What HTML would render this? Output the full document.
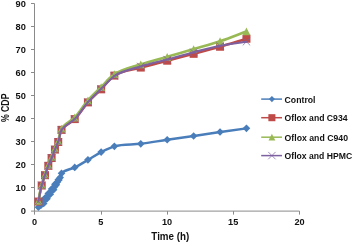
<!DOCTYPE html>
<html><head><meta charset="utf-8"><title>Chart</title>
<style>html,body{margin:0;padding:0;background:#fff}svg{display:block}</style>
</head><body>
<svg width="355" height="246" viewBox="0 0 355 246">
<rect width="355" height="246" fill="#fff"/>
<g stroke="#8a8a8a" stroke-width="1" fill="none" >
<path d="M34.5 3.5 V211.1 H299.5"/>
<path d="M31.0 211.1 H34.5"/>
<path d="M31.0 187.5 H34.5"/>
<path d="M31.0 164.5 H34.5"/>
<path d="M31.0 141.5 H34.5"/>
<path d="M31.0 118.5 H34.5"/>
<path d="M31.0 95.5 H34.5"/>
<path d="M31.0 72.5 H34.5"/>
<path d="M31.0 49.5 H34.5"/>
<path d="M31.0 26.5 H34.5"/>
<path d="M31.0 3.5 H34.5"/>
<path d="M34.5 211.1 V214.6"/>
<path d="M101.5 211.1 V214.6"/>
<path d="M167.5 211.1 V214.6"/>
<path d="M233.5 211.1 V214.6"/>
<path d="M299.5 211.1 V214.6"/>
</g>
<g font-family="'Liberation Sans', sans-serif" font-weight="bold" font-size="9.7" fill="#111">
<text x="25.9" y="214.1" text-anchor="end" textLength="5.2" lengthAdjust="spacingAndGlyphs">0</text>
<text x="25.9" y="191.0" text-anchor="end" textLength="10.3" lengthAdjust="spacingAndGlyphs">10</text>
<text x="25.9" y="168.0" text-anchor="end" textLength="10.3" lengthAdjust="spacingAndGlyphs">20</text>
<text x="25.9" y="144.9" text-anchor="end" textLength="10.3" lengthAdjust="spacingAndGlyphs">30</text>
<text x="25.9" y="121.8" text-anchor="end" textLength="10.3" lengthAdjust="spacingAndGlyphs">40</text>
<text x="25.9" y="98.8" text-anchor="end" textLength="10.3" lengthAdjust="spacingAndGlyphs">50</text>
<text x="25.9" y="75.7" text-anchor="end" textLength="10.3" lengthAdjust="spacingAndGlyphs">60</text>
<text x="25.9" y="52.6" text-anchor="end" textLength="10.3" lengthAdjust="spacingAndGlyphs">70</text>
<text x="25.9" y="29.5" text-anchor="end" textLength="10.3" lengthAdjust="spacingAndGlyphs">80</text>
<text x="25.9" y="6.5" text-anchor="end" textLength="10.3" lengthAdjust="spacingAndGlyphs">90</text>
<text x="34.5" y="225.3" text-anchor="middle" textLength="5.1" lengthAdjust="spacingAndGlyphs">0</text>
<text x="100.8" y="225.3" text-anchor="middle" textLength="5.1" lengthAdjust="spacingAndGlyphs">5</text>
<text x="167.0" y="225.3" text-anchor="middle" textLength="10.2" lengthAdjust="spacingAndGlyphs">10</text>
<text x="233.2" y="225.3" text-anchor="middle" textLength="10.2" lengthAdjust="spacingAndGlyphs">15</text>
<text x="299.5" y="225.3" text-anchor="middle" textLength="10.2" lengthAdjust="spacingAndGlyphs">20</text>
<text x="170.3" y="240.1" text-anchor="middle" font-size="10.5" textLength="37.9" lengthAdjust="spacingAndGlyphs">Time (h)</text>
<text transform="translate(8.6 107.8) rotate(-90)" text-anchor="middle" font-size="10.6" textLength="28.5" lengthAdjust="spacingAndGlyphs">% CDP</text>
</g>
<path d="M38.40 207.26 C39.50 205.74 40.60 204.21 41.70 202.69 C42.81 201.16 43.91 199.63 45.01 198.10 C46.11 196.58 47.21 195.05 48.31 193.52 C49.41 192.00 50.51 190.47 51.61 188.94 C52.71 187.42 53.81 185.89 54.92 184.36 C56.02 182.84 57.22 181.38 58.22 179.78 C59.49 177.75 60.06 175.13 61.52 173.37 C64.46 169.85 70.43 169.61 74.73 167.42 C79.25 165.12 83.55 162.41 87.94 159.86 C92.36 157.30 96.60 154.38 101.15 152.08 C105.42 149.91 109.83 147.75 114.36 146.35 C122.72 143.78 132.01 144.93 140.78 143.83 C149.62 142.72 158.38 141.03 167.20 139.71 C176.00 138.39 184.82 137.21 193.62 135.93 C202.43 134.65 211.23 133.30 220.04 132.04 C228.84 130.78 237.65 129.60 246.46 128.37" fill="none" stroke="#4a7ebb" stroke-width="2.5" stroke-linejoin="round" stroke-linecap="round"/>
<path d="M38.40 203.46 l3.80 3.80 l-3.80 3.80 l-3.80 -3.80 z" fill="#4a7ebb"/>
<path d="M41.70 198.88 l3.80 3.80 l-3.80 3.80 l-3.80 -3.80 z" fill="#4a7ebb"/>
<path d="M45.01 194.30 l3.80 3.80 l-3.80 3.80 l-3.80 -3.80 z" fill="#4a7ebb"/>
<path d="M48.31 189.72 l3.80 3.80 l-3.80 3.80 l-3.80 -3.80 z" fill="#4a7ebb"/>
<path d="M51.61 185.14 l3.80 3.80 l-3.80 3.80 l-3.80 -3.80 z" fill="#4a7ebb"/>
<path d="M54.92 180.56 l3.80 3.80 l-3.80 3.80 l-3.80 -3.80 z" fill="#4a7ebb"/>
<path d="M58.22 175.98 l3.80 3.80 l-3.80 3.80 l-3.80 -3.80 z" fill="#4a7ebb"/>
<path d="M61.52 169.57 l3.80 3.80 l-3.80 3.80 l-3.80 -3.80 z" fill="#4a7ebb"/>
<path d="M74.73 163.62 l3.80 3.80 l-3.80 3.80 l-3.80 -3.80 z" fill="#4a7ebb"/>
<path d="M87.94 156.06 l3.80 3.80 l-3.80 3.80 l-3.80 -3.80 z" fill="#4a7ebb"/>
<path d="M101.15 148.28 l3.80 3.80 l-3.80 3.80 l-3.80 -3.80 z" fill="#4a7ebb"/>
<path d="M114.36 142.55 l3.80 3.80 l-3.80 3.80 l-3.80 -3.80 z" fill="#4a7ebb"/>
<path d="M140.78 140.03 l3.80 3.80 l-3.80 3.80 l-3.80 -3.80 z" fill="#4a7ebb"/>
<path d="M167.20 135.91 l3.80 3.80 l-3.80 3.80 l-3.80 -3.80 z" fill="#4a7ebb"/>
<path d="M193.62 132.13 l3.80 3.80 l-3.80 3.80 l-3.80 -3.80 z" fill="#4a7ebb"/>
<path d="M220.04 128.24 l3.80 3.80 l-3.80 3.80 l-3.80 -3.80 z" fill="#4a7ebb"/>
<path d="M246.46 124.57 l3.80 3.80 l-3.80 3.80 l-3.80 -3.80 z" fill="#4a7ebb"/>
<path d="M41.00 201.46 l3.80 3.80 l-3.80 3.80 l-3.80 -3.80 z" fill="#4a7ebb"/>
<path d="M43.70 199.58 l3.80 3.80 l-3.80 3.80 l-3.80 -3.80 z" fill="#4a7ebb"/>
<path d="M44.30 196.88 l3.80 3.80 l-3.80 3.80 l-3.80 -3.80 z" fill="#4a7ebb"/>
<path d="M47.01 195.00 l3.80 3.80 l-3.80 3.80 l-3.80 -3.80 z" fill="#4a7ebb"/>
<path d="M47.61 192.30 l3.80 3.80 l-3.80 3.80 l-3.80 -3.80 z" fill="#4a7ebb"/>
<path d="M50.31 190.42 l3.80 3.80 l-3.80 3.80 l-3.80 -3.80 z" fill="#4a7ebb"/>
<path d="M50.91 187.72 l3.80 3.80 l-3.80 3.80 l-3.80 -3.80 z" fill="#4a7ebb"/>
<path d="M53.61 185.84 l3.80 3.80 l-3.80 3.80 l-3.80 -3.80 z" fill="#4a7ebb"/>
<path d="M54.21 183.14 l3.80 3.80 l-3.80 3.80 l-3.80 -3.80 z" fill="#4a7ebb"/>
<path d="M56.32 181.05 l3.80 3.80 l-3.80 3.80 l-3.80 -3.80 z" fill="#4a7ebb"/>
<path d="M57.22 178.47 l3.80 3.80 l-3.80 3.80 l-3.80 -3.80 z" fill="#4a7ebb"/>
<path d="M58.92 176.23 l3.80 3.80 l-3.80 3.80 l-3.80 -3.80 z" fill="#4a7ebb"/>
<path d="M60.17 173.79 l3.80 3.80 l-3.80 3.80 l-3.80 -3.80 z" fill="#4a7ebb"/>
<path d="M38.40 201.54 C39.50 196.20 40.26 190.76 41.70 185.51 C42.66 182.04 43.86 178.62 45.01 175.20 C46.07 172.06 47.10 168.90 48.31 165.82 C49.33 163.19 50.55 160.64 51.61 158.03 C52.76 155.22 53.75 152.36 54.92 149.56 C55.97 147.02 57.27 144.57 58.22 142.00 C59.67 138.08 59.51 133.32 61.52 129.86 C64.25 125.19 70.72 123.07 74.73 119.10 C79.75 114.13 83.19 107.65 87.94 102.38 C92.08 97.80 96.80 93.74 101.15 89.33 C105.61 84.81 109.27 79.05 114.36 75.59 C121.73 70.57 131.92 70.07 140.78 67.57 C149.54 65.11 158.39 62.99 167.20 60.70 C176.01 58.41 184.82 56.16 193.62 53.83 C202.44 51.50 211.27 49.24 220.04 46.74 C228.89 44.21 237.65 41.39 246.46 38.72" fill="none" stroke="#be4b48" stroke-width="2.5" stroke-linejoin="round" stroke-linecap="round"/>
<rect x="34.40" y="197.54" width="8.00" height="8.00" fill="#be4b48"/>
<rect x="37.70" y="181.51" width="8.00" height="8.00" fill="#be4b48"/>
<rect x="41.01" y="171.20" width="8.00" height="8.00" fill="#be4b48"/>
<rect x="44.31" y="161.82" width="8.00" height="8.00" fill="#be4b48"/>
<rect x="47.61" y="154.03" width="8.00" height="8.00" fill="#be4b48"/>
<rect x="50.92" y="145.56" width="8.00" height="8.00" fill="#be4b48"/>
<rect x="54.22" y="138.00" width="8.00" height="8.00" fill="#be4b48"/>
<rect x="57.52" y="125.86" width="8.00" height="8.00" fill="#be4b48"/>
<rect x="70.73" y="115.10" width="8.00" height="8.00" fill="#be4b48"/>
<rect x="83.94" y="98.38" width="8.00" height="8.00" fill="#be4b48"/>
<rect x="97.15" y="85.33" width="8.00" height="8.00" fill="#be4b48"/>
<rect x="110.36" y="71.59" width="8.00" height="8.00" fill="#be4b48"/>
<rect x="136.78" y="63.57" width="8.00" height="8.00" fill="#be4b48"/>
<rect x="163.20" y="56.70" width="8.00" height="8.00" fill="#be4b48"/>
<rect x="189.62" y="49.83" width="8.00" height="8.00" fill="#be4b48"/>
<rect x="216.04" y="42.74" width="8.00" height="8.00" fill="#be4b48"/>
<rect x="242.46" y="34.72" width="8.00" height="8.00" fill="#be4b48"/>
<path d="M38.40 200.85 C39.50 195.43 40.25 189.92 41.70 184.59 C42.65 181.12 43.86 177.71 45.01 174.29 C46.07 171.15 47.12 168.00 48.31 164.90 C49.34 162.20 50.54 159.57 51.61 156.88 C52.74 154.07 53.75 151.21 54.92 148.41 C55.97 145.87 57.27 143.43 58.22 140.85 C59.67 136.93 59.54 132.20 61.52 128.72 C64.25 123.91 70.72 121.61 74.73 117.50 C79.75 112.35 83.17 105.72 87.94 100.32 C92.07 95.65 96.71 91.43 101.15 87.04 C105.52 82.73 109.42 77.65 114.36 74.22 C121.92 68.96 131.86 67.30 140.78 64.37 C149.48 61.51 158.40 59.37 167.20 56.81 C176.02 54.25 184.81 51.62 193.62 49.03 C202.43 46.43 211.33 44.14 220.04 41.24 C228.95 38.27 237.65 34.68 246.46 31.39" fill="none" stroke="#98b954" stroke-width="2.7" stroke-linejoin="round" stroke-linecap="round"/>
<path d="M38.40 196.95 l3.90 7.80 l-7.80 0 z" fill="#98b954"/>
<path d="M41.70 180.69 l3.90 7.80 l-7.80 0 z" fill="#98b954"/>
<path d="M45.01 170.39 l3.90 7.80 l-7.80 0 z" fill="#98b954"/>
<path d="M48.31 161.00 l3.90 7.80 l-7.80 0 z" fill="#98b954"/>
<path d="M51.61 152.98 l3.90 7.80 l-7.80 0 z" fill="#98b954"/>
<path d="M54.92 144.51 l3.90 7.80 l-7.80 0 z" fill="#98b954"/>
<path d="M58.22 136.95 l3.90 7.80 l-7.80 0 z" fill="#98b954"/>
<path d="M61.52 124.82 l3.90 7.80 l-7.80 0 z" fill="#98b954"/>
<path d="M74.73 113.60 l3.90 7.80 l-7.80 0 z" fill="#98b954"/>
<path d="M87.94 96.42 l3.90 7.80 l-7.80 0 z" fill="#98b954"/>
<path d="M101.15 83.14 l3.90 7.80 l-7.80 0 z" fill="#98b954"/>
<path d="M114.36 70.32 l3.90 7.80 l-7.80 0 z" fill="#98b954"/>
<path d="M140.78 60.47 l3.90 7.80 l-7.80 0 z" fill="#98b954"/>
<path d="M167.20 52.91 l3.90 7.80 l-7.80 0 z" fill="#98b954"/>
<path d="M193.62 45.13 l3.90 7.80 l-7.80 0 z" fill="#98b954"/>
<path d="M220.04 37.34 l3.90 7.80 l-7.80 0 z" fill="#98b954"/>
<path d="M246.46 27.49 l3.90 7.80 l-7.80 0 z" fill="#98b954"/>
<path d="M38.40 201.54 C39.50 196.20 40.26 190.76 41.70 185.51 C42.66 182.04 43.86 178.62 45.01 175.20 C46.07 172.06 47.10 168.90 48.31 165.82 C49.33 163.19 50.55 160.64 51.61 158.03 C52.76 155.22 53.75 152.36 54.92 149.56 C55.97 147.02 57.26 144.57 58.22 142.00 C59.65 138.15 59.56 133.50 61.52 130.09 C64.25 125.35 70.72 123.14 74.73 119.10 C79.75 114.04 83.19 107.50 87.94 102.15 C92.08 97.50 96.71 93.26 101.15 88.87 C105.52 84.56 109.42 79.46 114.36 76.05 C121.91 70.83 131.84 69.21 140.78 66.43 C149.46 63.73 158.41 61.92 167.20 59.56 C176.03 57.19 184.78 54.53 193.62 52.23 C202.39 49.95 211.16 47.58 220.04 45.82 C228.77 44.08 237.65 43.07 246.46 41.70" fill="none" stroke="#7d60a0" stroke-width="2.1" stroke-linejoin="round" stroke-linecap="round"/>
<path d="M34.70 197.84 l7.40 7.40 M34.70 205.24 l7.40 -7.40" stroke="#7d60a0" stroke-width="0.7" fill="none"/>
<path d="M38.00 181.81 l7.40 7.40 M38.00 189.21 l7.40 -7.40" stroke="#7d60a0" stroke-width="0.7" fill="none"/>
<path d="M41.31 171.50 l7.40 7.40 M41.31 178.90 l7.40 -7.40" stroke="#7d60a0" stroke-width="0.7" fill="none"/>
<path d="M44.61 162.12 l7.40 7.40 M44.61 169.52 l7.40 -7.40" stroke="#7d60a0" stroke-width="0.7" fill="none"/>
<path d="M47.91 154.33 l7.40 7.40 M47.91 161.73 l7.40 -7.40" stroke="#7d60a0" stroke-width="0.7" fill="none"/>
<path d="M51.22 145.86 l7.40 7.40 M51.22 153.26 l7.40 -7.40" stroke="#7d60a0" stroke-width="0.7" fill="none"/>
<path d="M54.52 138.30 l7.40 7.40 M54.52 145.70 l7.40 -7.40" stroke="#7d60a0" stroke-width="0.7" fill="none"/>
<path d="M57.82 126.39 l7.40 7.40 M57.82 133.79 l7.40 -7.40" stroke="#7d60a0" stroke-width="0.7" fill="none"/>
<path d="M71.03 115.40 l7.40 7.40 M71.03 122.80 l7.40 -7.40" stroke="#7d60a0" stroke-width="0.7" fill="none"/>
<path d="M84.24 98.45 l7.40 7.40 M84.24 105.85 l7.40 -7.40" stroke="#7d60a0" stroke-width="0.7" fill="none"/>
<path d="M97.45 85.17 l7.40 7.40 M97.45 92.57 l7.40 -7.40" stroke="#7d60a0" stroke-width="0.7" fill="none"/>
<path d="M110.66 72.35 l7.40 7.40 M110.66 79.75 l7.40 -7.40" stroke="#7d60a0" stroke-width="0.7" fill="none"/>
<path d="M137.08 62.73 l7.40 7.40 M137.08 70.13 l7.40 -7.40" stroke="#7d60a0" stroke-width="0.7" fill="none"/>
<path d="M163.50 55.86 l7.40 7.40 M163.50 63.26 l7.40 -7.40" stroke="#7d60a0" stroke-width="0.7" fill="none"/>
<path d="M189.92 48.53 l7.40 7.40 M189.92 55.93 l7.40 -7.40" stroke="#7d60a0" stroke-width="0.7" fill="none"/>
<path d="M216.34 42.12 l7.40 7.40 M216.34 49.52 l7.40 -7.40" stroke="#7d60a0" stroke-width="0.7" fill="none"/>
<path d="M242.76 38.00 l7.40 7.40 M242.76 45.40 l7.40 -7.40" stroke="#7d60a0" stroke-width="0.7" fill="none"/>
<g font-family="'Liberation Sans', sans-serif" font-weight="bold" font-size="9.4" fill="#111">
<path d="M261.2 99.1 H282" stroke="#4a7ebb" stroke-width="1.5" fill="none"/>
<path d="M271.90 96.06 l3.04 3.04 l-3.04 3.04 l-3.04 -3.04 z" fill="#4a7ebb"/>
<text x="284.6" y="102.5" textLength="30.9" lengthAdjust="spacingAndGlyphs">Control</text>
<path d="M261.2 117.7 H282" stroke="#be4b48" stroke-width="1.5" fill="none"/>
<rect x="268.38" y="114.18" width="7.04" height="7.04" fill="#be4b48"/>
<text x="284.6" y="121.1" textLength="62.9" lengthAdjust="spacingAndGlyphs">Oflox and C934</text>
<path d="M261.2 137.2 H282" stroke="#98b954" stroke-width="1.5" fill="none"/>
<path d="M271.90 133.81 l3.39 6.79 l-6.79 0 z" fill="#98b954"/>
<text x="284.6" y="140.6" textLength="63.4" lengthAdjust="spacingAndGlyphs">Oflox and C940</text>
<path d="M261.2 155.6 H282" stroke="#7d60a0" stroke-width="1.5" fill="none"/>
<path d="M268.20 151.90 l7.40 7.40 M268.20 159.30 l7.40 -7.40" stroke="#7d60a0" stroke-width="0.7" fill="none"/>
<text x="284.6" y="159.0" textLength="67.6" lengthAdjust="spacingAndGlyphs">Oflox and HPMC</text>
</g>
</svg>
</body></html>
